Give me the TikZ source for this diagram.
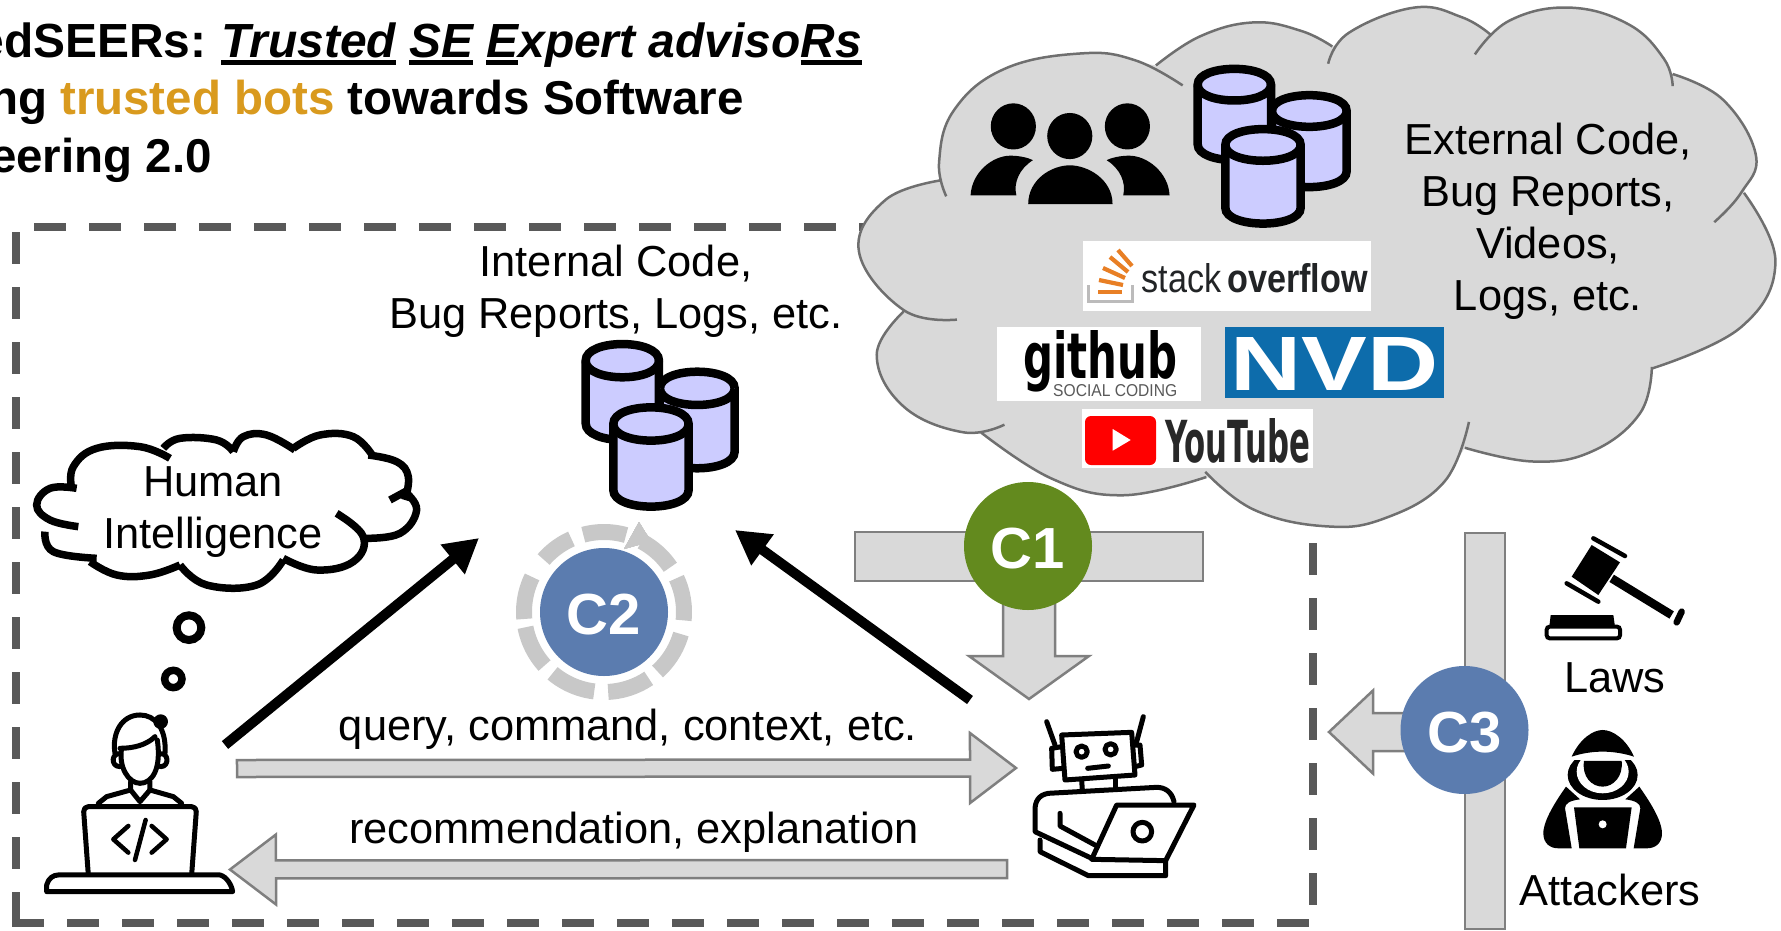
\documentclass[tikz,border=0pt]{standalone}
\usepackage{fontspec}
\usepackage{graphicx}
\setmainfont{Liberation Sans}
\newfontfamily\heavyfont{DejaVu Sans}
\usetikzlibrary{calc,arrows.meta}
\definecolor{boxgrey}{HTML}{595959}
\definecolor{blockfill}{HTML}{D9D9D9}
\definecolor{blockline}{HTML}{7F7F7F}
\definecolor{cloudline}{HTML}{6F6F6F}
\definecolor{cylfill}{HTML}{CCCCFF}
\definecolor{cgreen}{HTML}{638A1E}
\definecolor{cblue}{HTML}{5B7CAF}
\definecolor{ringgrey}{HTML}{C8C8C8}
\definecolor{gold}{HTML}{D99A1E}
\definecolor{soorange}{HTML}{E87F25}
\definecolor{sotray}{HTML}{BCBBBB}
\definecolor{sotext}{HTML}{222426}
\definecolor{nvdblue}{HTML}{0D6CAB}
\definecolor{ytred}{HTML}{FF0000}
\definecolor{yttext}{HTML}{282828}
\newcommand\ulin[1]{\setbox0\hbox{#1}\rlap{\rule[-8pt]{\wd0}{5pt}}\box0 }
\newcommand\blockarrow[5]{%
  \coordinate (ba) at ($(#2)!#5pt!(#1)$);
  \draw[blockstyle] ($(#1)!#3pt!90:(#2)$) -- ($(ba)!#3pt!90:(#2)$) -- ($(ba)!#4pt!90:(#2)$) -- (#2)
    -- ($(ba)!#4pt!-90:(#2)$) -- ($(ba)!#3pt!-90:(#2)$) -- ($(#1)!#3pt!-90:(#2)$) -- cycle;
}
\newcommand\cyl[5]{% cx, half width, top y, bottom y, ry
  \path[cylstyle] (#1-#2,#3) -- (#1-#2,#4) .. controls (#1-#2,#4+1.33*#5) and (#1+#2,#4+1.33*#5) .. (#1+#2,#4) -- (#1+#2,#3)
    .. controls (#1+#2,#3-1.33*#5) and (#1-#2,#3-1.33*#5) .. (#1-#2,#3) -- cycle;
  \path[cylstyle] (#1-#2,#3) .. controls (#1-#2,#3+1.33*#5) and (#1+#2,#3+1.33*#5) .. (#1+#2,#3);
}
\newcommand\dbstack{%
  \cyl{427}{110}{122}{310}{50}
  \cyl{652}{112}{205}{395}{50}
  \cyl{513}{113}{312}{510}{50}
}
\newcommand\ringseg[2]{\draw[ringstyle] plot[domain=#1:#2,samples=24,variable=\t] ({604+80*cos(\t)},{612-80*sin(\t)});}
\newcommand\biglobes[1]{%
  \path[#1]
    plot[smooth,tension=.7] coordinates {(162,570)(150,470)(175,320)(260,200)(390,155)(480,175)(560,248)}
    plot[smooth,tension=.7] coordinates {(515,190)(590,105)(680,65)(760,90)(812,135)}
    plot[smooth,tension=.7] coordinates {(805,185)(840,95)(950,22)(1030,50)(1078,100)}
    plot[smooth,tension=.7] coordinates {(1052,158)(1110,60)(1210,22)(1310,70)(1370,170)(1385,250)}
    plot[smooth,tension=.7] coordinates {(1385,215)(1470,290)(1525,450)(1500,560)(1455,645)}
    plot[smooth,tension=.7] coordinates {(1505,560)(1558,760)(1500,950)(1350,1070)}
    plot[smooth,tension=.7] coordinates {(1350,1065)(1330,1200)(1250,1310)(1150,1340)(1035,1300)}
    plot[smooth,tension=.7] coordinates {(1042,1225)(1000,1400)(900,1505)(800,1528)(680,1480)(598,1370)}
    plot[smooth,tension=.7] coordinates {(600,1385)(460,1438)(340,1390)(220,1255)}
    plot[smooth,tension=.7] coordinates {(260,1233)(190,1255)(90,1180)(45,1030)(90,905)}
    plot[smooth,tension=.7] coordinates {(180,928)(90,900)(15,730)(60,580)(155,523)};
}
\newcommand\smalllobes[1]{%
  \path[#1]
    plot[smooth,tension=.7] coordinates {(230,205)(150,205)(110,255)(150,300)(235,320)}
    plot[smooth,tension=.7] coordinates {(135,335)(160,395)(290,415)}
    plot[smooth,tension=.7] coordinates {(270,425)(350,465)(450,465)(540,435)}
    plot[smooth,tension=.7] coordinates {(540,435)(620,495)(770,495)(850,420)}
    plot[smooth,tension=.7] coordinates {(850,415)(950,450)(1060,425)(1090,350)(1010,280)}
    plot[smooth,tension=.7] coordinates {(1095,355)(1200,340)(1250,270)(1215,215)}
    plot[smooth,tension=.7] coordinates {(1225,210)(1170,240)}
    plot[smooth,tension=.7] coordinates {(1215,240)(1225,170)(1190,125)(1105,105)}
    plot[smooth,tension=.7] coordinates {(1120,110)(1060,50)(960,45)(880,85)}
    plot[smooth,tension=.7] coordinates {(885,90)(800,45)(730,50)(700,95)}
    plot[smooth,tension=.7] coordinates {(700,95)(650,60)(540,55)(490,85)}
    plot[smooth,tension=.7] coordinates {(510,115)(420,80)(290,85)(220,140)(215,205)};
}
\tikzset{
  boxdash/.style={draw=boxgrey,line width=7.5pt,dash pattern=on 32pt off 23pt},
  blockstyle/.style={fill=blockfill,draw=blockline,line width=2.5pt,line join=miter},
  cylstyle/.style={draw=black,fill=cylfill,line width=8.5pt},
  ringstyle/.style={draw=ringgrey,line width=16pt},
  bodytext/.style={inner sep=0pt,font=\fontsize{43.4}{52}\selectfont,align=center},
  titletext/.style={inner sep=0pt,font=\fontsize{47.5}{57}\selectfont\bfseries,anchor=base},
  badge/.style={circle,minimum size=128pt,inner sep=0pt,text=white,text height=44pt,text depth=0pt,font=\fontsize{58}{60}\selectfont\bfseries},
  bigarrow/.style={line width=10pt,draw=black,-{Triangle[length=34pt,width=36pt]}},
  icon/.style={draw=black,line width=5pt,line cap=round,line join=round},
  thoughtline/.style={draw=black,line width=7.5pt,line cap=butt},
}
\begin{document}
\begin{tikzpicture}[x=1pt,y=-1pt]
\useasboundingbox (0,0) rectangle (1781,930);

% title
\node[titletext,anchor=base east,font=\fontsize{47.9}{57}\selectfont\bfseries] (title1) at (862,57) {edSEERs:\hspace{-3pt} \textit{\ulin{Trusted} \ulin{SE} \ulin{E}xpert adviso\ulin{Rs}}};
\node[titletext,anchor=base east] (title2) at (744,114) {ng \textcolor{gold}{trusted bots} towards Software};
\node[titletext,anchor=base east] (title3) at (212,172) {eering 2.0};

% dashed trust boundary
\draw[boxdash] (16,232) -- (16,924);
\draw[boxdash] (12,923) -- (1309,923);
\draw[boxdash] (1313,543) -- (1313,905);
\draw[boxdash] (34,227) -- (870,227);

% external cloud
\begin{scope}[shift={(850,0)},x=.594pt,y=-.3444pt]
  \fill[blockfill] (162,570) -- (260,200) -- (390,155) -- (515,190) -- (590,105) -- (680,65) -- (812,135) -- (950,22) -- (1078,100) -- (1210,22) -- (1385,215) -- (1525,450) -- (1505,560) -- (1558,760) -- (1350,1070) -- (1250,1310) -- (1150,1340) -- (1035,1300) -- (1000,1400) -- (800,1528) -- (600,1385) -- (340,1390) -- (220,1255) -- (90,1180) -- (90,905) -- (15,730) -- (155,523) -- cycle;
  \biglobes{fill=blockfill}
  \biglobes{draw=cloudline,line width=2.5pt}
  % people
  \fill[black] (275,367) ellipse [x radius=38,y radius=67];
  \fill[black] (370,395) ellipse [x radius=38,y radius=67];
  \fill[black] (467,367) ellipse [x radius=38,y radius=67];
  \fill[black] (300,593) .. controls (300,520) and (340,480) .. (370,480) .. controls (400,480) and (442,520) .. (442,593) -- cycle;
  \fill[black] (203,567) .. controls (205,500) and (240,452) .. (270,452) .. controls (285,452) and (300,458) .. (308,465) .. controls (285,490) and (275,530) .. (280,567) -- cycle;
  \fill[black] (538,567) .. controls (536,500) and (500,452) .. (470,452) .. controls (455,452) and (440,458) .. (432,465) .. controls (455,490) and (465,530) .. (460,567) -- cycle;
\end{scope}
\begin{scope}[shift={(1193,65)},x=.3333pt,y=-.3172pt,shift={(-303,-60)}]
  \dbstack
\end{scope}
\node[bodytext,anchor=base] (external) at (1548,310) {External Code,\\Bug Reports,\\Videos,\\Logs, etc.};

% logos
\node[fill=white,minimum width=288pt,minimum height=70pt,inner sep=0pt] (solo) at (1227,276) {};
\draw[sotray,line width=3pt] (1088.5,285) -- (1088.5,301) -- (1132,301) -- (1132,285);
\foreach \a/\b/\c/\d in {1098/292/1122/292,1099/280/1123/285,1103/268/1125/278,1110/257/1128/272,1118/250/1132/266}
  \draw[soorange,line width=4.2pt] (\a,\b) -- (\c,\d);
\node[inner sep=0pt,anchor=base west,text=sotext] (sotxt) at (1141.5,292) {\resizebox{226pt}{29pt}{stack\,\textbf{overflow}}};
\node[fill=white,minimum width=204pt,minimum height=74pt,inner sep=0pt] (ghlogo) at (1099,364) {};
\node[inner sep=0pt,anchor=base west] (ghtxt) at (1023,378) {\resizebox{154pt}{48pt}{\heavyfont\bfseries github}};
\node[inner sep=0pt,anchor=base west,text=black!65] (ghsub) at (1053,396) {\resizebox{124pt}{12pt}{SOCIAL CODING}};
\node[fill=nvdblue,minimum width=219pt,minimum height=71pt,inner sep=0pt] (nvdlogo) at (1334.5,362.5) {};
\node[inner sep=0pt,anchor=base west,text=white] (nvdtxt) at (1230,390) {\resizebox{208pt}{53pt}{\textbf{NVD}}};
\node[fill=white,minimum width=231pt,minimum height=59pt,inner sep=0pt] (ytlogo) at (1197.5,438.5) {};
\fill[ytred,rounded corners=6pt] (1085,416) rectangle (1156,465);
\fill[white] (1112.7,429) -- (1130.7,440) -- (1112.7,450.7) -- cycle;
\node[inner sep=0pt,anchor=base west,text=yttext] (yttxt) at (1165,462) {\resizebox{145pt}{44pt}{\heavyfont\bfseries YouTube}};

% internal label and database
\node[bodytext,anchor=base] (internal) at (616,328) {Internal Code,\\Bug Reports, Logs, etc.};
\begin{scope}[shift={(480,320)},x=.3333pt,y=-.3333pt]
  \dbstack
\end{scope}

% C2 ring
\foreach \a/\b in {74/105,114/139,154/185,191/222,230/263,273/304,312/344,-6/25,34/62}
  \ringseg{\a}{\b}
\fill[ringgrey] (639,522) -- (624,549) -- (652.5,541) .. controls (646,535) and (643,528) .. (639,522) -- cycle;
\node[badge,fill=cblue] (c2) at (604,612) {C2};

% human thought
\begin{scope}[shift={(0,420)},x=.3333pt,y=-.3333pt]
  \smalllobes{thoughtline}
  \draw[black,line width=8pt] (567,623) circle [radius=37];
  \draw[black,line width=7.5pt] (520,777) circle [radius=26];
  % developer
  \draw[icon] (345,1000) .. controls (335,940) and (365,885) .. (420,885) .. controls (465,885) and (500,925) .. (495,1000);
  \draw[icon] (360,985) .. controls (400,985) and (440,975) .. (465,950);
  \draw[icon] (365,985) .. controls (355,1040) and (385,1090) .. (420,1090) .. controls (455,1090) and (485,1050) .. (472,960);
  \draw[icon] (362,1002) .. controls (335,995) and (330,1040) .. (360,1040);
  \draw[icon] (480,1002) .. controls (505,995) and (510,1040) .. (482,1040);
  \fill[black] (482,905) circle [radius=22];
  \draw[icon] (392,1085) -- (392,1110) -- (320,1130) -- (295,1150);
  \draw[icon] (450,1085) -- (450,1110) -- (520,1130) -- (545,1150);
  \draw[icon] (392,1110) -- (420,1145) -- (450,1110);
  \draw[icon,fill=white,rounded corners=5pt] (265,1365) -- (250,1160) -- (590,1160) -- (575,1365);
  \draw[icon,fill=white] (140,1415) -- (140,1395) .. controls (145,1375) and (160,1365) .. (175,1365) -- (660,1365) .. controls (680,1370) and (695,1395) .. (698,1415) -- cycle;
  \draw[icon,line width=4.5pt] (385,1218) -- (340,1258) -- (385,1298);
  \draw[icon,line width=4.5pt] (455,1218) -- (500,1258) -- (455,1298);
  \draw[icon,line width=4.5pt] (437,1200) -- (405,1320);
\end{scope}
\node[bodytext,anchor=base] (human) at (213,548) {Human\\Intelligence};

% robot
\begin{scope}[shift={(1020,700)},x=.3333pt,y=-.3333pt]
  \draw[icon] (80,65) -- (105,135);
  \draw[icon] (370,50) -- (350,125);
  \draw[icon] (125,105) -- (335,97) -- (345,225) -- (135,240) -- cycle;
  \draw[icon] (125,140) -- (95,145) -- (97,208) -- (130,205);
  \draw[icon] (345,135) -- (360,135) -- (365,195) -- (345,200);
  \draw[icon] (185,155) circle [radius=17];
  \draw[icon] (272,148) circle [radius=17];
  \draw[icon] (203,205) -- (265,198);
  \draw[icon] (185,240) -- (187,270);
  \draw[icon] (287,235) -- (287,262);
  \draw[icon] (462,305) .. controls (455,275) and (435,262) .. (410,262) -- (85,280) .. controls (55,285) and (45,305) .. (45,330) -- (45,395) -- (215,475);
  \draw[icon] (120,340) -- (120,378) -- (225,435);
  \draw[icon] (215,478) -- (290,315) -- (522,315) -- (437,482) -- cycle;
  \draw[icon] (367,395) circle [radius=28];
  \draw[icon] (60,420) -- (60,455) -- (205,527) -- (437,527) -- (437,485);
\end{scope}
\coordinate (botq) at (1016,768);
\coordinate (botr) at (1007,869);

% gavel and attacker
\begin{scope}[shift={(1530,530)},x=.3333pt,y=-.3333pt]
  \fill[black] (185,45) -- (270,97) -- (205,195) -- (125,140) -- cycle;
  \draw[black,line width=4.5pt,line cap=round] (190,25) -- (285,78);
  \draw[black,line width=4.5pt,line cap=round] (110,160) -- (205,215);
  \draw[black,line width=8.5pt] (245,145) -- (425,255);
  \draw[black,line width=6.5pt,line cap=round] (455,245) -- (440,277);
  \fill[black] (62,255) -- (250,255) -- (255,290) -- (58,290) -- cycle;
  \draw[black,fill=white,line width=4pt,rounded corners=3pt] (50,290) rectangle (270,325);
  % attacker
  \fill[black] (218,735) ellipse [x radius=105,y radius=75];
  \fill[white] (218,725) ellipse [x radius=78,y radius=65];
  \fill[white] (100,640) rectangle (336,690);
  \fill[black] (162,693) -- (275,693) .. controls (280,740) and (250,770) .. (218,770) .. controls (185,770) and (155,740) .. (162,693) -- cycle;
  \fill[black] (125,680) .. controls (150,625) and (190,600) .. (218,600) .. controls (250,600) and (290,630) .. (312,680) .. controls (250,660) and (185,660) .. (125,680) -- cycle;
  \fill[black] (108,770) .. controls (80,810) and (40,870) .. (40,910) .. controls (40,940) and (60,955) .. (85,955) -- (125,955) -- (105,835) .. controls (105,820) and (120,812) .. (150,808) -- cycle;
  \fill[black] (328,770) .. controls (356,810) and (396,870) .. (396,910) .. controls (396,940) and (376,955) .. (351,955) -- (311,955) -- (331,835) .. controls (331,820) and (316,812) .. (286,808) -- cycle;
  \fill[black] (132,832) -- (305,832) -- (288,955) -- (148,955) -- cycle;
  \fill[white] (218,883) circle [radius=12];
\end{scope}
\node[bodytext,anchor=base] (laws) at (1615,692) {Laws};
\node[bodytext,anchor=base] (attackers) at (1610,905) {Attackers};

% black arrows
\coordinate (devout) at (225,745);
\coordinate (dbin1) at (479,538);
\coordinate (botout) at (970,700);
\coordinate (dbin2) at (735,530);
\draw[bigarrow] (devout) -- (dbin1);
\draw[bigarrow] (botout) -- (dbin2);

% block arrows between developer and bot
\coordinate (devq) at (237,768.5);
\coordinate (devr) at (230,869.5);
\blockarrow{devq}{botq}{8.5}{35}{46}
\blockarrow{botr}{devr}{9}{35}{46}
\node[bodytext,anchor=base] (querylabel) at (628,740) {query, command, context, etc.};
\node[bodytext,anchor=base] (reclabel) at (634,843) {recommendation, explanation};

% C1
\coordinate (c1tail) at (1029,590);
\coordinate (c1tip) at (1029,699);
\draw[blockstyle] (855,532) rectangle (1203,581);
\blockarrow{c1tail}{c1tip}{26}{60}{43}
\node[badge,fill=cgreen] (c1) at (1028,546) {C1};

% C3
\coordinate (c3tail) at (1430,732);
\coordinate (c3tip) at (1329,732);
\draw[blockstyle] (1465,533) rectangle (1505,929);
\blockarrow{c3tail}{c3tip}{19}{41.5}{44}
\node[badge,fill=cblue] (c3) at (1464.5,730) {C3};
\end{tikzpicture}
\end{document}
